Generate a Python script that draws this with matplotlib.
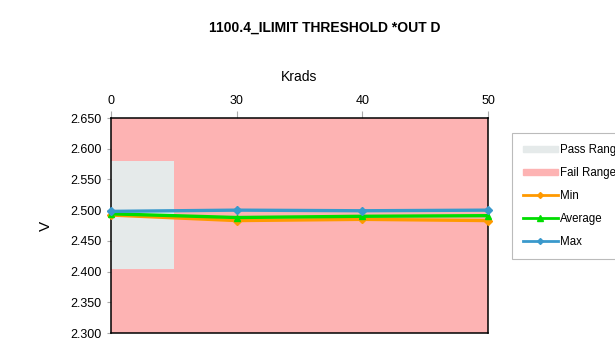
import numpy as np
import matplotlib.pyplot as plt
from matplotlib.patches import Patch
from matplotlib.lines import Line2D

plt.rcParams.update({
    "font.family": ["Liberation Sans", "DejaVu Sans"],
    "font.size": 9,
})

# data
krads = ["0", "30", "40", "50"]
v_min = [2.492, 2.483, 2.485, 2.483]
v_avg = [2.494, 2.488, 2.490, 2.491]
v_max = [2.498, 2.500, 2.499, 2.500]
pass_lo, pass_hi = 2.405, 2.580
y_lo, y_hi = 2.300, 2.650

fig = plt.figure(figsize=(6.15, 3.48), dpi=100)
ax = fig.add_axes([111 / 615, 15 / 348, 377 / 615, 215 / 348])

x = np.arange(len(krads))

# fail range fills the plot, pass range only near 0 krads
ax.axhspan(y_lo, y_hi, color="#FDB3B3", zorder=0, lw=0)
ax.fill_between([0, 0.5], pass_lo, pass_hi, color="#E5EAEA", zorder=1, lw=0)

ax.plot(x, v_min, color="#FF9900", marker="D", ms=4.5, lw=2.4, zorder=3, clip_on=False)
ax.plot(x, v_avg, color="#00DD00", marker="^", ms=5, lw=2.4, zorder=4, clip_on=False)
ax.plot(x, v_max, color="#3A99CC", marker="D", ms=4.5, lw=2.4, zorder=5, clip_on=False)

ax.set_xlim(0, len(krads) - 1)
ax.set_ylim(y_lo, y_hi)
ax.set_yticks(np.arange(2.30, 2.651, 0.05))
ax.set_yticklabels(["%.3f" % t for t in np.arange(2.30, 2.651, 0.05)])

ax.xaxis.tick_top()
ax.xaxis.set_label_position("top")
ax.set_xticks(x)
ax.set_xticklabels(krads)
ax.tick_params(axis="x", length=5, color="#AAAAAA", pad=3, labelsize=9)
ax.tick_params(axis="y", length=3, color="#AAAAAA", pad=4, labelsize=9)
ax.set_xlabel("Krads", fontsize=10, labelpad=10)
ax.set_ylabel("V", fontsize=11, labelpad=12)

for s in ["left", "right", "bottom", "top"]:
    ax.spines[s].set_color("black")
    ax.spines[s].set_linewidth(1.1)

fig.text(325 / 615, 1 - 28 / 348, "1100.4_ILIMIT THRESHOLD *OUT D",
         ha="center", va="center", fontsize=10, fontweight="bold")

handles = [
    Patch(color="#E5EAEA", label="Pass Range"),
    Patch(color="#FDB3B3", label="Fail Range"),
    Line2D([], [], color="#FF9900", marker="D", ms=3, lw=2, label="Min"),
    Line2D([], [], color="#00DD00", marker="^", ms=4, lw=2, label="Average"),
    Line2D([], [], color="#3A99CC", marker="D", ms=3, lw=2, label="Max"),
]
leg = fig.legend(handles=handles, loc="upper left",
                 bbox_to_anchor=(512 / 615, 1 - 133 / 348),
                 fontsize=8.3, frameon=True, fancybox=False,
                 handlelength=3.0, handleheight=0.5, handletextpad=0.25,
                 labelspacing=0.95, borderpad=0.95, borderaxespad=0)
leg.get_frame().set_edgecolor("#AAAAAA")
leg.get_frame().set_linewidth(0.8)

fig.savefig("out.png", dpi=100)
